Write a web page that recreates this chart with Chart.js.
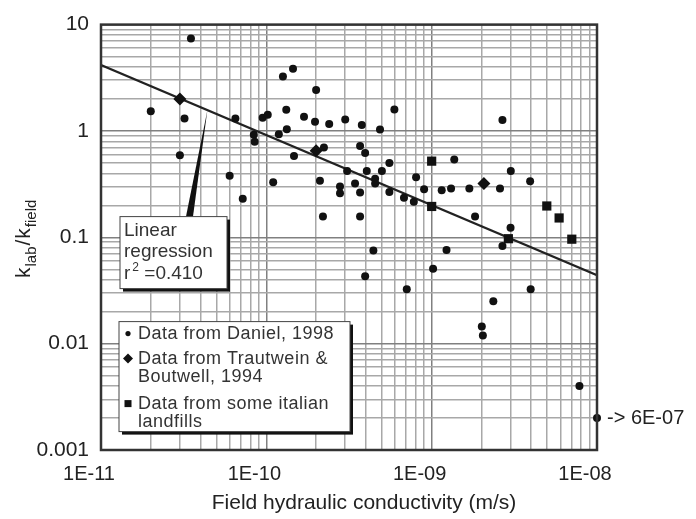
<!DOCTYPE html>
<html>
<head>
<meta charset="utf-8">
<script src="https://cdn.jsdelivr.net/npm/chart.js@4"></script>
<style>
  html, body { margin: 0; padding: 0; background: #fff; }
  #wrap { width: 696px; height: 519px; }
</style>
</head>
<body>
<div id="wrap"><canvas id="chart" width="696" height="519"></canvas></div>
<script>
// k_lab / k_field against field hydraulic conductivity (m/s)
const danielX = [3.5e-11, 2.0e-11, 3.2e-11, 6.5e-11, 9.5e-11, 1.02e-10, 8.4e-11, 8.5e-11, 3.0e-11, 6.0e-11,
  7.2e-11, 1.1e-10, 1.26e-10, 1.45e-10, 1.32e-10, 1.69e-10, 1.97e-10, 2.4e-10, 3.0e-10, 2.0e-10,
  1.19e-10, 1.33e-10, 1.47e-10, 2.23e-10, 2.11e-10, 2.79e-10, 2.79e-10, 2.2e-10, 3.08e-10, 3.78e-10,
  4.87e-10, 5.95e-10, 2.68e-9, 3.69e-10, 3.96e-10, 5.55e-10, 4.05e-10, 5.0e-10, 4.55e-10, 4.55e-10,
  3.44e-10, 3.69e-10, 5.55e-10, 6.8e-10, 7.8e-10, 8.05e-10, 1.37e-9, 9.0e-10, 1.15e-9, 1.31e-9,
  1.69e-9, 2.59e-9, 3.01e-9, 3.94e-9, 1.83e-9, 3.0e-9, 2.68e-9, 3.69e-10, 4.44e-10, 1.23e-9,
  3.96e-10, 7.07e-10, 1.02e-9, 3.97e-9, 2.36e-9, 2.01e-9, 2.04e-9, 7.83e-9];
const danielY = [7.4, 1.53, 1.31, 1.31, 1.33, 1.42, 0.92, 0.79, 0.59, 0.38,
  0.23, 0.33, 3.25, 3.85, 1.58, 1.36, 1.22, 1.16, 1.28, 2.43,
  0.93, 1.04, 0.58, 0.70, 0.34, 0.30, 0.26, 0.157, 0.42, 1.14,
  1.03, 1.59, 1.27, 0.72, 0.62, 0.50, 0.42, 0.42, 0.355, 0.32,
  0.32, 0.264, 0.267, 0.235, 0.216, 0.367, 0.54, 0.283, 0.277, 0.287,
  0.287, 0.287, 0.42, 0.337, 0.157, 0.123, 0.083, 0.157, 0.075, 0.076,
  0.043, 0.0325, 0.0507, 0.0325, 0.025, 0.0145, 0.0119, 0.0040];

const trautweinX = [3.0e-11, 2.0e-10, 2.07e-9];
const trautweinY = [2.0, 0.65, 0.32];

const italianX = [1.0e-9, 1.0e-9, 2.91e-9, 4.97e-9, 5.9e-9, 7.04e-9];
const italianY = [0.52, 0.195, 0.097, 0.197, 0.152, 0.096];

// point at 6E-07 is off scale, drawn on the right border
const offScaleX = [1e-8];
const offScaleY = [0.002];
const offScaleLabel = "-> 6E-07";

const regressionX = [1e-11, 1e-8];
const regressionY = [4.16, 0.044];
const calloutAtX = 4.4e-11;

const xTickValues = [1e-11, 1e-10, 1e-9, 1e-8];
const xTickLabels = ["1E-11", "1E-10", "1E-09", "1E-08"];
const yTickValues = [0.001, 0.01, 0.1, 1, 10];
const yTickLabels = ["0.001", "0.01", "0.1", "1", "10"];

const xTitle = "Field hydraulic conductivity (m/s)";
const legendLines = [["Data from Daniel, 1998"], ["Data from Trautwein &", "Boutwell, 1994"], ["Data from some italian", "landfills"]];

const FONT = '"Liberation Sans", Arial, Helvetica, sans-serif';
const INK = "#111";

const toPoints = (xs, ys) => xs.map((x, i) => ({ x, y: ys[i] }));
const isDecade = v => Math.abs(Math.log10(v) - Math.round(Math.log10(v))) < 1e-6;

// all 1..9 lines of every decade, like log paper
const logTicks = (min, max) => {
  const out = [];
  for (let e = Math.round(Math.log10(min)); e < Math.round(Math.log10(max)); e++) {
    for (let m = 1; m < 10; m++) out.push({ value: m * Math.pow(10, e) });
  }
  out.push({ value: max });
  return out;
};

const gridColor = c => (c.tick && isDecade(c.tick.value)) ? "#808080" : "#a8a8a8";

const overlay = {
  id: "overlay",
  afterDraw(chart) {
    const { ctx, chartArea: a, scales: { x, y } } = chart;
    ctx.save();

    // frame
    ctx.strokeStyle = "#333";
    ctx.lineWidth = 2.5;
    ctx.strokeRect(a.left, a.top, a.right - a.left, a.bottom - a.top);

    // x tick labels (sit a bit left of their lines in the original)
    ctx.fillStyle = "#222";
    ctx.font = "20px " + FONT;
    ctx.textAlign = "center";
    ctx.textBaseline = "middle";
    xTickValues.forEach((v, i) => ctx.fillText(xTickLabels[i], x.getPixelForValue(v) - 12, a.bottom + 24));

    // x title
    ctx.font = "21px " + FONT;
    ctx.fillText(xTitle, (a.left + a.right) / 2 + 15, a.bottom + 53);

    // y title: k_lab / k_field
    const parts = [["k", 21, 0], ["lab", 15, 6], ["/", 21, 0], ["k", 21, 0], ["field", 15, 6]];
    ctx.save();
    ctx.translate(30, (a.top + a.bottom) / 2 + 1);
    ctx.rotate(-Math.PI / 2);
    ctx.textAlign = "left";
    ctx.textBaseline = "alphabetic";
    let total = 0;
    parts.forEach(p => { ctx.font = p[1] + "px " + FONT; total += ctx.measureText(p[0]).width + 1; });
    let u = -total / 2;
    parts.forEach(p => {
      ctx.font = p[1] + "px " + FONT;
      ctx.fillText(p[0], u, p[2]);
      u += ctx.measureText(p[0]).width + 1;
    });
    ctx.restore();

    // off-scale note
    const meta = chart.getDatasetMeta(3).data[0];
    ctx.font = "20px " + FONT;
    ctx.textAlign = "left";
    ctx.fillStyle = "#222";
    ctx.fillText(offScaleLabel, meta.x + 10, meta.y);

    // regression callout
    const bx = a.left + 19, by = a.top + 192, bw = 107, bh = 72;
    const p0x = x.getPixelForValue(regressionX[0]), p0y = y.getPixelForValue(regressionY[0]);
    const p1x = x.getPixelForValue(regressionX[1]), p1y = y.getPixelForValue(regressionY[1]);
    const tx = x.getPixelForValue(calloutAtX);
    const ty = p0y + (tx - p0x) / (p1x - p0x) * (p1y - p0y);
    ctx.fillStyle = INK;
    ctx.beginPath();
    ctx.moveTo(tx, ty);
    ctx.lineTo(bx + 73, by);
    ctx.lineTo(bx + 66, by);
    ctx.closePath();
    ctx.fill();

    ctx.fillStyle = INK;
    ctx.fillRect(bx + 3, by + 3, bw, bh);
    ctx.fillStyle = "#fff";
    ctx.fillRect(bx, by, bw, bh);
    ctx.strokeStyle = "#444";
    ctx.lineWidth = 1;
    ctx.strokeRect(bx, by, bw, bh);

    ctx.fillStyle = "#333";
    ctx.font = "19px " + FONT;
    ctx.textBaseline = "middle";
    ctx.fillText("Linear", bx + 4, by + 14);
    ctx.fillText("regression", bx + 4, by + 35);
    let rx = bx + 4;
    ctx.fillText("r", rx, by + 57);
    rx += ctx.measureText("r").width + 2;
    ctx.font = "12px " + FONT;
    ctx.fillText("2", rx, by + 51);
    rx += ctx.measureText("2").width;
    ctx.font = "19px " + FONT;
    ctx.fillText(" =0.410", rx, by + 57);

    // legend
    const lx = a.left + 18, ly = a.top + 297, lw = 231, lh = 110;
    ctx.fillStyle = INK;
    ctx.fillRect(lx + 3, ly + 3, lw, lh);
    ctx.fillStyle = "#fff";
    ctx.fillRect(lx, ly, lw, lh);
    ctx.strokeStyle = "#444";
    ctx.strokeRect(lx, ly, lw, lh);

    const rows = [ly + 12, ly + 37, ly + 82];
    const mx = lx + 9;
    ctx.fillStyle = INK;
    ctx.beginPath(); ctx.arc(mx, rows[0], 2.6, 0, Math.PI * 2); ctx.fill();
    ctx.beginPath();
    ctx.moveTo(mx - 5, rows[1]); ctx.lineTo(mx, rows[1] - 5); ctx.lineTo(mx + 5, rows[1]); ctx.lineTo(mx, rows[1] + 5);
    ctx.closePath(); ctx.fill();
    ctx.fillRect(mx - 3.5, rows[2] - 3.5, 7, 7);

    ctx.fillStyle = "#333";
    ctx.font = "18px " + FONT;
    ctx.letterSpacing = "0.5px";
    legendLines.forEach((lines, i) => {
      lines.forEach((t, j) => ctx.fillText(t, lx + 19, rows[i] + j * 18));
    });

    ctx.restore();
  }
};

const chart = new Chart(document.getElementById("chart"), {
  type: "scatter",
  data: {
    datasets: [
      { label: "Data from Daniel, 1998", data: toPoints(danielX, danielY), pointStyle: "circle",
        pointRadius: 4, backgroundColor: INK, borderColor: INK, borderWidth: 0, clip: false },
      { label: "Data from Trautwein & Boutwell, 1994", data: toPoints(trautweinX, trautweinY), pointStyle: "rectRot",
        pointRadius: 6.5, backgroundColor: INK, borderColor: INK, borderWidth: 0, clip: false },
      { label: "Data from some italian landfills", data: toPoints(italianX, italianY), pointStyle: "rect",
        pointRadius: 6.5, backgroundColor: INK, borderColor: INK, borderWidth: 0, clip: false },
      { label: "off scale", data: toPoints(offScaleX, offScaleY), pointStyle: "circle",
        pointRadius: 4, backgroundColor: INK, borderColor: INK, borderWidth: 0, clip: false },
      { label: "Linear regression", data: toPoints(regressionX, regressionY), showLine: true,
        borderColor: "#222", borderWidth: 2.2, pointRadius: 0, fill: false }
    ]
  },
  options: {
    responsive: false,
    animation: false,
    devicePixelRatio: 1,
    layout: { padding: { top: 16, right: 99, left: 0, bottom: 0 } },
    plugins: { legend: { display: false }, tooltip: { enabled: false } },
    scales: {
      x: {
        type: "logarithmic",
        min: 1e-11,
        max: 1e-8,
        afterBuildTicks: s => { s.ticks = logTicks(1e-11, 1e-8); },
        afterFit: s => { s.height = 69; },
        ticks: { display: false, autoSkip: false },
        grid: { color: gridColor, lineWidth: 1.5, drawTicks: false },
        border: { display: false }
      },
      y: {
        type: "logarithmic",
        min: 0.001,
        max: 10,
        afterBuildTicks: s => { s.ticks = logTicks(0.001, 10); },
        afterFit: s => { s.width = 101; },
        ticks: {
          autoSkip: false,
          padding: 12,
          color: "#222",
          font: { family: FONT, size: 21 },
          callback: v => {
            const i = yTickValues.findIndex(t => Math.abs(Math.log10(t) - Math.log10(v)) < 1e-6);
            return i >= 0 ? yTickLabels[i] : "";
          }
        },
        grid: { color: gridColor, lineWidth: 1.5, drawTicks: false },
        border: { display: false }
      }
    }
  },
  plugins: [overlay]
});
</script>
</body>
</html>
